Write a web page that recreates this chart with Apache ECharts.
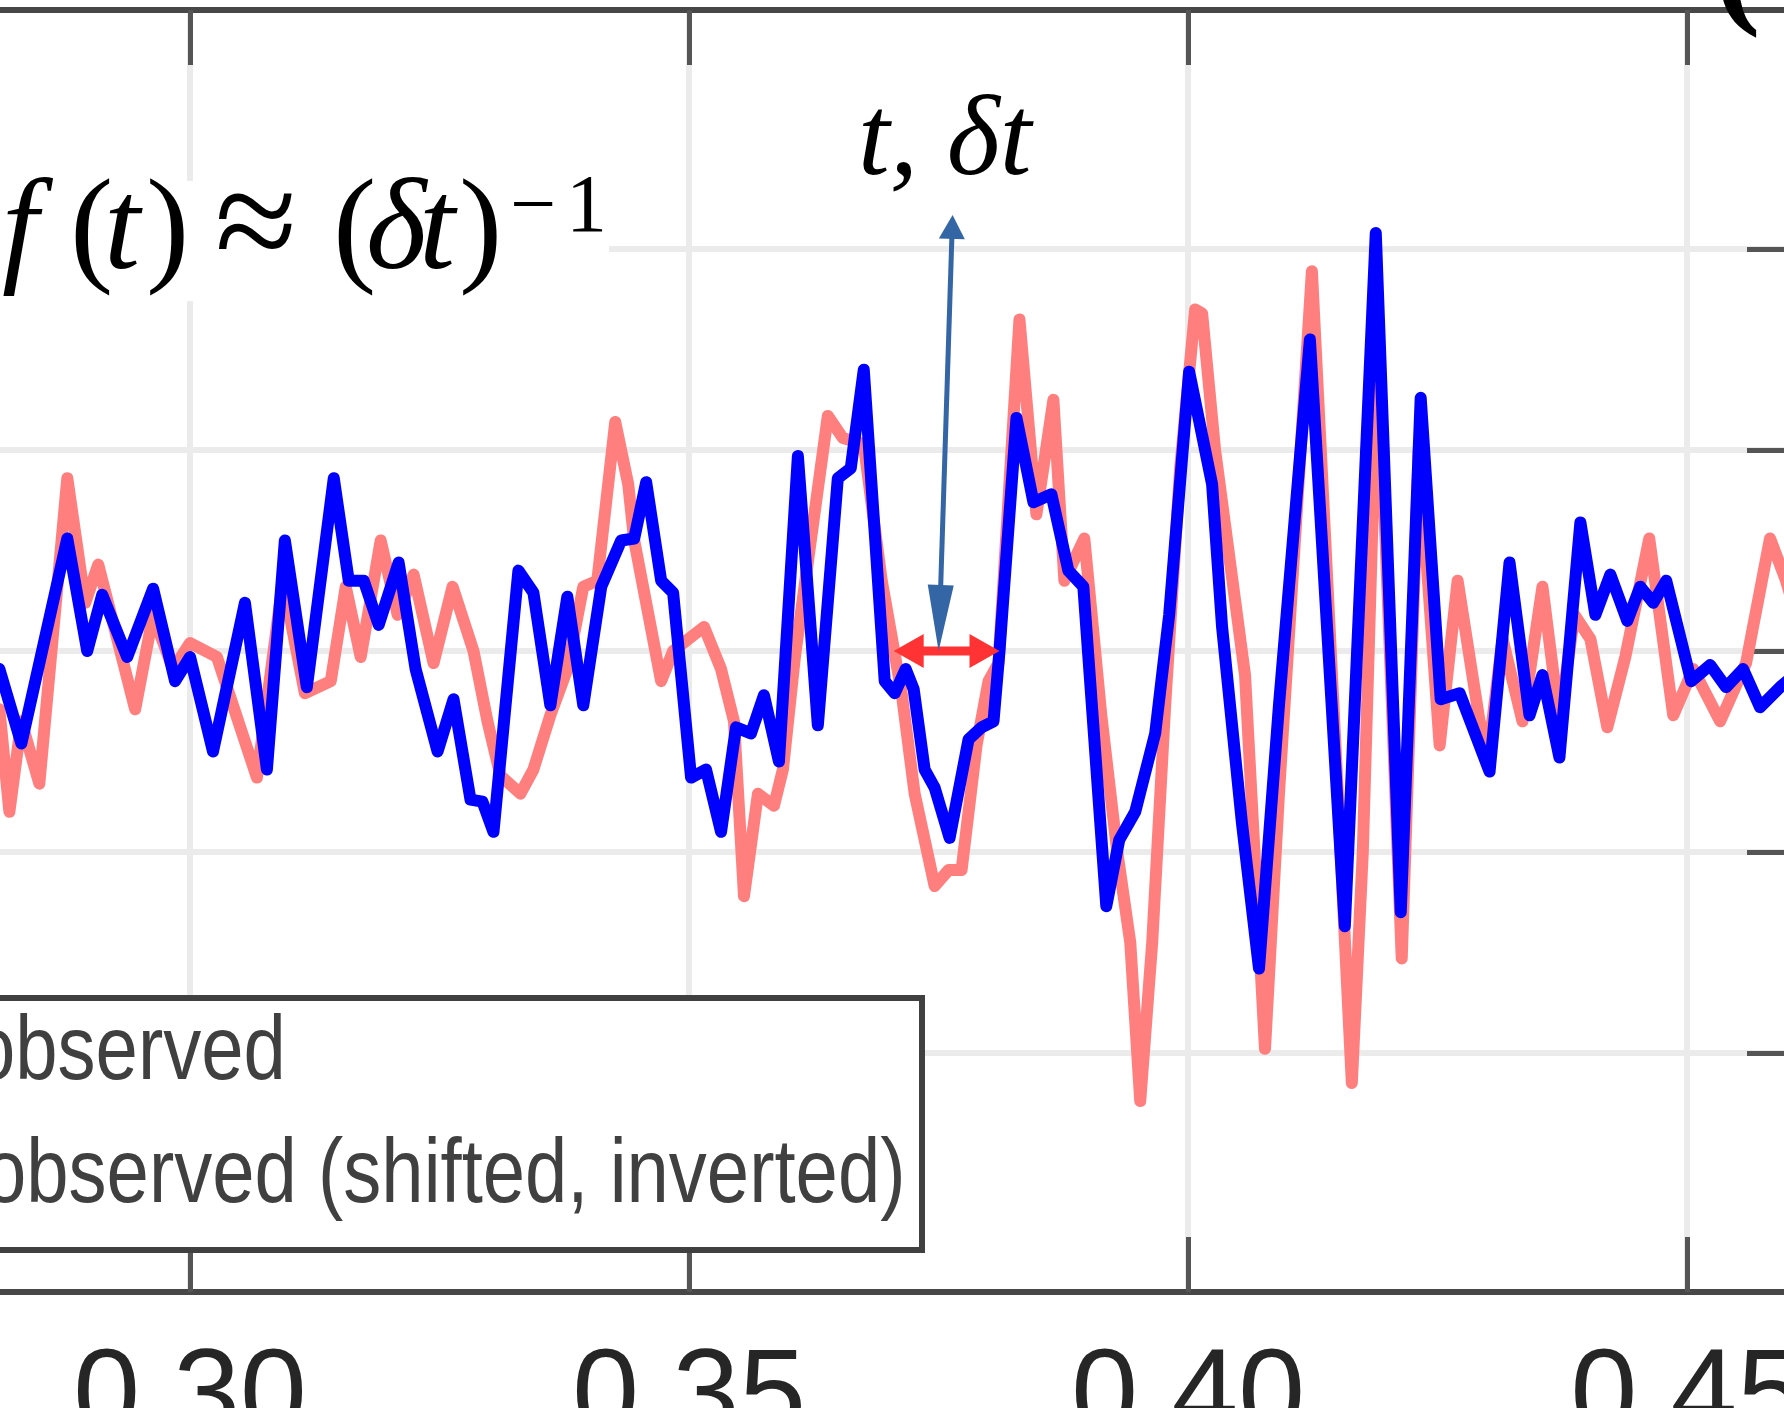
<!DOCTYPE html>
<html>
<head>
<meta charset="utf-8">
<script src="https://cdn.jsdelivr.net/npm/echarts@6/dist/echarts.min.js"></script>
<style>
  html, body { margin: 0; padding: 0; background: #ffffff; }
  #chart { width: 1784px; height: 1408px; }
</style>
</head>
<body>
<div id="chart"></div>
<script>
// ---- data (time in s, normalised amplitude) ----
const observedT = [0.2809,0.2819,0.2831,0.2849,0.2877,0.2895,0.2908,0.2945,0.2963,0.2983,0.3000,0.3027,0.3067,0.3093,0.3115,
  0.3141,0.3156,0.3171,0.3191,0.3208,0.3224,0.3244,0.3263,0.3284,0.3298,0.3311,0.3331,0.3344,0.3361,0.3378,0.3394,0.3408,
  0.3426,0.3439,0.3445,0.3472,0.3484,0.3515,0.3532,0.3545,0.3555,0.3569,0.3585,0.3594,0.3606,0.3639,0.3654,0.3675,0.3693,
  0.3713,0.3726,0.3746,0.3760,0.3773,0.3788,0.3800,0.3810,0.3831,0.3848,0.3865,0.3876,0.3896,0.3913,0.3929,0.3942,0.3952,
  0.3964,0.3977,0.3992,0.4007,0.4014,0.4027,0.4057,0.4077,0.4091,0.4124,0.4147,0.4164,0.4175,0.4190,0.4214,0.4231,0.4252,
  0.4270,0.4292,0.4301,0.4315,0.4335,0.4355,0.4372,0.4387,0.4403,0.4420,0.4438,0.4462,0.4486,0.4506,0.4533,0.4559,0.4583,
  0.4599,0.4605];
const observedY = [-0.29,-0.80,-0.35,-0.66,0.86,0.24,0.43,-0.29,0.18,-0.09,0.04,-0.03,-0.63,0.35,-0.21,
  -0.15,0.32,-0.03,0.55,0.18,0.38,-0.06,0.32,0.00,-0.35,-0.62,-0.71,-0.59,-0.32,-0.09,0.32,0.35,
  1.14,0.83,0.55,-0.15,0.00,0.12,-0.09,-0.35,-1.22,-0.71,-0.77,-0.59,-0.03,1.17,1.06,1.03,0.35,
  -0.21,-0.71,-1.17,-1.09,-1.09,-0.47,-0.15,-0.06,1.65,0.68,1.25,0.35,0.56,-0.32,-1.00,-1.45,-2.24,
  -1.45,-0.27,0.91,1.70,1.68,1.00,-0.12,-1.98,-0.71,1.89,-0.41,-2.15,-1.00,1.55,-1.53,1.00,-0.47,
  0.35,-0.35,-0.50,0.06,-0.35,0.32,-0.35,0.18,0.06,-0.38,-0.03,0.56,-0.32,-0.09,-0.35,-0.06,0.56,
  0.35,0.25];

const shiftedT = [0.2809,0.2831,0.2877,0.2897,0.2912,0.2937,0.2963,0.2985,0.3000,0.3023,0.3055,0.3077,0.3095,0.3117,
  0.3144,0.3159,0.3174,0.3189,0.3209,0.3226,0.3248,0.3264,0.3281,0.3293,0.3304,0.3329,0.3344,0.3361,0.3378,0.3394,0.3412,
  0.3432,0.3445,0.3457,0.3472,0.3484,0.3502,0.3517,0.3532,0.3547,0.3562,0.3575,0.3590,0.3609,0.3629,0.3649,0.3662,0.3675,
  0.3696,0.3706,0.3717,0.3725,0.3736,0.3746,0.3761,0.3780,0.3793,0.3805,0.3811,0.3828,0.3845,0.3863,0.3880,0.3895,0.3918,
  0.3931,0.3947,0.3967,0.3981,0.4001,0.4024,0.4034,0.4054,0.4071,0.4091,0.4122,0.4157,0.4188,0.4213,0.4233,0.4253,0.4272,
  0.4302,0.4322,0.4342,0.4355,0.4372,0.4393,0.4408,0.4423,0.4440,0.4453,0.4466,0.4479,0.4504,0.4523,0.4539,0.4556,0.4573,
  0.4593,0.4605];
const shiftedY = [-0.09,-0.46,0.56,0.00,0.28,-0.03,0.31,-0.15,-0.03,-0.50,0.24,-0.59,0.55,-0.18,
  0.86,0.35,0.35,0.13,0.44,-0.09,-0.50,-0.24,-0.74,-0.75,-0.90,0.40,0.29,-0.27,0.27,-0.27,0.32,
  0.55,0.56,0.84,0.35,0.29,-0.63,-0.59,-0.90,-0.38,-0.41,-0.22,-0.55,0.97,-0.37,0.86,0.91,1.40,
  -0.15,-0.21,-0.09,-0.19,-0.59,-0.68,-0.93,-0.44,-0.38,-0.35,0.00,1.16,0.74,0.78,0.40,0.32,-1.27,
  -0.94,-0.80,-0.41,0.18,1.39,0.83,0.12,-0.86,-1.58,-0.27,1.55,-1.37,2.08,-1.30,1.26,-0.24,-0.21,
  -0.60,0.44,-0.32,-0.12,-0.53,0.64,0.18,0.38,0.15,0.32,0.24,0.35,-0.15,-0.07,-0.18,-0.09,-0.28,
  -0.18,-0.13];

const seriesNames = ['observed', 'observed (shifted, inverted)'];
const seriesColors = ['#ff7f7f', '#0000ff'];
const xTicks = [0.25, 0.30, 0.35, 0.40, 0.45];
const yTicks = [-2, -1, 0, 1, 2];
const xRange = [0.25, 0.46];
const yRange = [-3.19, 3.19];

// annotation anchors (data units): width of the half-cycle and its pointer
const deltaSpan = [0.3705, 0.3811];
const pointerTip = [0.3750, 0];
const pointerTail = [0.3764, 2.17];

const zip = (t, y) => t.map((v, i) => [v, y[i]]);

const axisColor = '#474747';
const tickColor = '#555555';
const gridColor = '#ebebeb';

const chart = echarts.init(document.getElementById('chart'), null, { renderer: 'canvas' });

function valueAxis(pos, range, ticks, tickLen, opts) {
  return Object.assign({
    type: 'value', position: pos, min: range[0], max: range[1],
    axisLine: { show: true, onZero: false, lineStyle: { color: axisColor, width: 6 } },
    axisTick: { show: true, inside: true, length: tickLen, customValues: ticks, lineStyle: { color: tickColor, width: 5 } },
    axisLabel: { show: false },
    splitLine: { show: false }
  }, opts || {});
}

chart.setOption({
  animation: false,
  backgroundColor: '#ffffff',
  grid: { left: -309, right: -3, top: 10, bottom: 116, outerBoundsMode: 'none', containLabel: false },
  xAxis: [
    valueAxis('bottom', xRange, xTicks, 55, {
      axisLabel: { show: true, customValues: xTicks, formatter: v => v.toFixed(2), margin: 48,
        fontFamily: "'Liberation Sans', Arial, sans-serif", fontSize: 120, color: '#262626' },
      splitLine: { show: true, lineStyle: { color: gridColor, width: 6 } }
    }),
    valueAxis('top', xRange, xTicks, 55)
  ],
  yAxis: [
    valueAxis('left', yRange, yTicks, 40, {
      splitLine: { show: true, lineStyle: { color: gridColor, width: 6 } }
    }),
    valueAxis('right', yRange, yTicks, 40)
  ],
  series: [
    {
      name: seriesNames[0], type: 'line', data: zip(observedT, observedY),
      symbol: 'none', showSymbol: false, z: 2,
      lineStyle: { color: seriesColors[0], width: 12, cap: 'round', join: 'round' },
      itemStyle: { color: seriesColors[0] }
    },
    {
      name: seriesNames[1], type: 'line', data: zip(shiftedT, shiftedY),
      symbol: 'none', showSymbol: false, z: 3,
      lineStyle: { color: seriesColors[1], width: 12, cap: 'round', join: 'round' },
      itemStyle: { color: seriesColors[1] }
    }
  ]
});

// ---- annotations ----
const toPx = p => chart.convertToPixel({ gridIndex: 0 }, p);

function arrowHead(tip, from, len, halfW, color) {
  const dx = tip[0] - from[0], dy = tip[1] - from[1];
  const d = Math.hypot(dx, dy);
  const ux = dx / d, uy = dy / d;
  const bx = tip[0] - ux * len, by = tip[1] - uy * len;
  return {
    type: 'polygon', z: 120, silent: true,
    shape: { points: [tip, [bx - uy * halfW, by + ux * halfW], [bx + uy * halfW, by - ux * halfW]] },
    style: { fill: color }
  };
}

function shaft(a, b, inset0, inset1, width, color) {
  const dx = b[0] - a[0], dy = b[1] - a[1];
  const d = Math.hypot(dx, dy);
  const ux = dx / d, uy = dy / d;
  return {
    type: 'line', z: 119, silent: true,
    shape: { x1: a[0] + ux * inset0, y1: a[1] + uy * inset0, x2: b[0] - ux * inset1, y2: b[1] - uy * inset1 },
    style: { stroke: color, lineWidth: width }
  };
}

const spanL = toPx([deltaSpan[0], 0]);
const spanR = toPx([deltaSpan[1], 0]);
const tipPx = toPx(pointerTip);
const tailPx = toPx(pointerTail);

const red = '#ff3333';
const steel = '#3465a4';

const serif = "'Liberation Serif', 'DejaVu Serif', serif";
const sans = "'Liberation Sans', Arial, sans-serif";

// formula f(t) ≈ (δt)^-1, glyph by glyph: [text, x, italic, size, align]
const formulaPieces = [
  ['f', 2, true, 130, 'left'], ['(', 70, false, 130, 'left'], ['t', 104, true, 130, 'left'], [')', 146, false, 130, 'left'],
  ['\u2248', 256, false, 150, 'center'], ['(', 333, false, 130, 'left'], ['\u03b4', 366, true, 130, 'left'],
  ['t', 419, true, 130, 'left'], [')', 459, false, 130, 'left']
];

const graphics = [
  // white box behind the formula
  { type: 'rect', z: 110, silent: true, shape: { x: -10, y: 181, width: 619, height: 120 }, style: { fill: '#ffffff' } }
];
formulaPieces.forEach(([s, x, it, size, align]) => {
  graphics.push({
    type: 'text', z: 111, silent: true, x: x, y: size > 130 ? 232 : 234,
    style: { text: s, fontFamily: serif, fontSize: size, fontStyle: it ? 'italic' : 'normal',
      fill: '#000000', align: align, verticalAlign: 'middle' }
  });
});
[['\u2212', 510], ['1', 566]].forEach(([s, x]) => {
  graphics.push({
    type: 'text', z: 111, silent: true, x: x, y: 209,
    style: { text: s, fontFamily: serif, fontSize: 82, fill: '#000000', align: 'left', verticalAlign: 'middle' }
  });
});
graphics.push({
  type: 'text', z: 111, silent: true, x: 858, y: 144,
  style: { text: 't, \u03b4t', fontFamily: serif, fontSize: 114, fontStyle: 'italic', fill: '#000000', align: 'left', verticalAlign: 'middle' }
});
// panel mark at the top-right corner
graphics.push({
  type: 'text', z: 111, silent: true, x: 1714, y: -28,
  style: { text: '(', fontFamily: serif, fontSize: 140, fontWeight: 'bold', fill: '#000000', align: 'left', verticalAlign: 'middle' }
});

// legend box (its left part with the line samples lies beyond the canvas)
graphics.push({
  type: 'rect', z: 112, silent: true,
  shape: { x: -200, y: 998, width: 1122, height: 252 },
  style: { fill: '#ffffff', stroke: '#404040', lineWidth: 6 }
});
[[1054, -27], [1177, -16]].forEach(([yMid, x0], i) => {
  graphics.push({
    type: 'line', z: 113, silent: true,
    shape: { x1: -150, y1: yMid, x2: -50, y2: yMid },
    style: { stroke: seriesColors[i], lineWidth: 12 }
  });
  graphics.push({
    type: 'text', z: 113, silent: true, x: x0, y: yMid, scaleX: 0.845,
    style: { text: seriesNames[i], fontFamily: sans, fontSize: 90, fill: '#404040', align: 'left', verticalAlign: 'middle' }
  });
});

// red double arrow across the half-cycle
graphics.push(shaft(spanL, spanR, 28, 28, 9, red));
graphics.push(arrowHead(spanL, spanR, 30, 17, red));
graphics.push(arrowHead(spanR, spanL, 30, 17, red));
// steel-blue pointer linking the label to the span
graphics.push(shaft(tailPx, tipPx, 20, 60, 5, steel));
graphics.push(arrowHead(tailPx, tipPx, 24, 13, steel));
graphics.push(arrowHead(tipPx, tailPx, 66, 13, steel));

chart.setOption({ graphic: { elements: graphics } });
</script>
</body>
</html>
